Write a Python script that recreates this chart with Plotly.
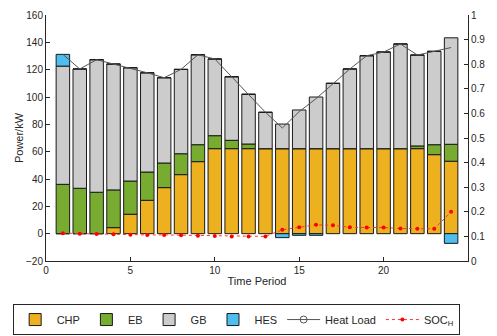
import plotly.graph_objects as go

periods = list(range(1, 25))
chp = [0, 0, 0, 4.4, 14.2, 24.4, 33.7, 43.2, 52.7, 62.2, 62.2, 62.2,
       62.2, 62.2, 62.2, 62.2, 62.2, 62.2, 62.2, 62.2, 62.2, 62.2, 57.8, 53.0]
eb = [36.1, 33.2, 30.3, 27.6, 24.3, 20.7, 18.0, 15.3, 12.4, 9.5, 6.1, 3.4,
      0, 0, 0, 0, 0, 0, 0, 0, 0, 2.0, 7.3, 12.4]
gb = [86.5, 87.3, 97.0, 92.1, 82.9, 72.6, 62.4, 61.7, 65.8, 56.1, 46.5, 36.4,
      26.6, 18.0, 28.3, 37.8, 47.8, 58.3, 68.0, 70.7, 76.6, 66.5, 68.3, 77.9]
hes = [8.6, 0, 0, 0, 0, 0, 0, 0, 0, 0, 0, 0,
       0, -2.9, -1.2, -1.2, 0, 0, 0, 0, 0, 0, 0, -7.1]
heat_load = [131.2, 120.5, 127.3, 124.1, 121.4, 117.7, 114.1, 120.2, 130.9, 127.8, 114.8, 102.0,
             88.8, 77.3, 89.3, 98.8, 110.0, 120.5, 130.2, 132.9, 138.8, 130.7, 133.4, 136.2]
soc_h = [0.113, 0.111, 0.110, 0.109, 0.107, 0.106, 0.106, 0.105, 0.103, 0.102, 0.100, 0.100,
         0.100, 0.127, 0.137, 0.147, 0.145, 0.137, 0.136, 0.136, 0.132, 0.131, 0.131, 0.200]

x_ticks = [0, 5, 10, 15, 20]
y1_ticks = list(range(-20, 161, 20))
y2_ticks = [0, 0.1, 0.2, 0.3, 0.4, 0.5, 0.6, 0.7, 0.8, 0.9, 1]
y2_labels = ["0", "0.1", "0.2", "0.3", "0.4", "0.5", "0.6", "0.7", "0.8", "0.9", "1"]

axis_col = "#262626"
edge = dict(color="#1a1a1a", width=1)

fig = go.Figure()
for name, vals, col in [("CHP", chp, "#EDB120"), ("EB", eb, "#77AC30"),
                        ("GB", gb, "#CCCCCC"), ("HES", hes, "#4DBEEE")]:
    fig.add_trace(go.Bar(x=periods, y=vals, name=name, width=0.8,
                         marker=dict(color=col, line=edge)))

fig.add_trace(go.Scatter(x=periods, y=heat_load, mode="lines", showlegend=False,
                         line=dict(color="#555555", width=1), name="Heat Load"))
fig.add_trace(go.Scatter(x=[None], y=[None], mode="lines+markers", name="Heat Load",
                         line=dict(color="#555555", width=1),
                         marker=dict(symbol="circle-open", size=7, color="#555555")))
fig.add_trace(go.Scatter(x=periods, y=soc_h, mode="lines+markers", name="SOC<sub>H</sub>",
                         yaxis="y2",
                         line=dict(color="#FF3333", width=1, dash="dot"),
                         marker=dict(symbol="circle", size=4, color="#FF0000")))

fig.update_layout(
    width=489, height=328,
    barmode="relative",
    plot_bgcolor="white", paper_bgcolor="white",
    margin=dict(l=37.5, r=29, t=7, b=75, autoexpand=False),
    font=dict(family="Arial, Liberation Sans, sans-serif", size=10, color=axis_col),
    xaxis=dict(range=[0, 25], tickvals=x_ticks, ticks="inside", ticklen=4,
               showline=True, linecolor=axis_col, linewidth=1, showgrid=False,
               zeroline=False, tickcolor=axis_col, automargin=False,
               title=dict(text="Time Period", font=dict(size=11), standoff=2)),
    yaxis=dict(range=[-20, 160], tickvals=y1_ticks, ticks="inside", ticklen=4,
               showline=True, linecolor=axis_col, linewidth=1, showgrid=False,
               zeroline=False, tickcolor=axis_col, automargin=False,
               title=dict(text="Power/kW", font=dict(size=11), standoff=0)),
    yaxis2=dict(range=[0, 1], tickvals=y2_ticks, ticktext=y2_labels, overlaying="y",
                side="right", ticks="inside", ticklen=4, showline=True,
                linecolor=axis_col, linewidth=1, showgrid=False, zeroline=False,
                tickcolor=axis_col, automargin=False),
    legend=dict(orientation="h", x=-0.079, xanchor="left", y=-0.175, yanchor="top",
                bordercolor=axis_col, borderwidth=1, bgcolor="white",
                font=dict(size=11), itemwidth=33, traceorder="normal"),
    showlegend=True,
)

fig.write_html("out.html")
